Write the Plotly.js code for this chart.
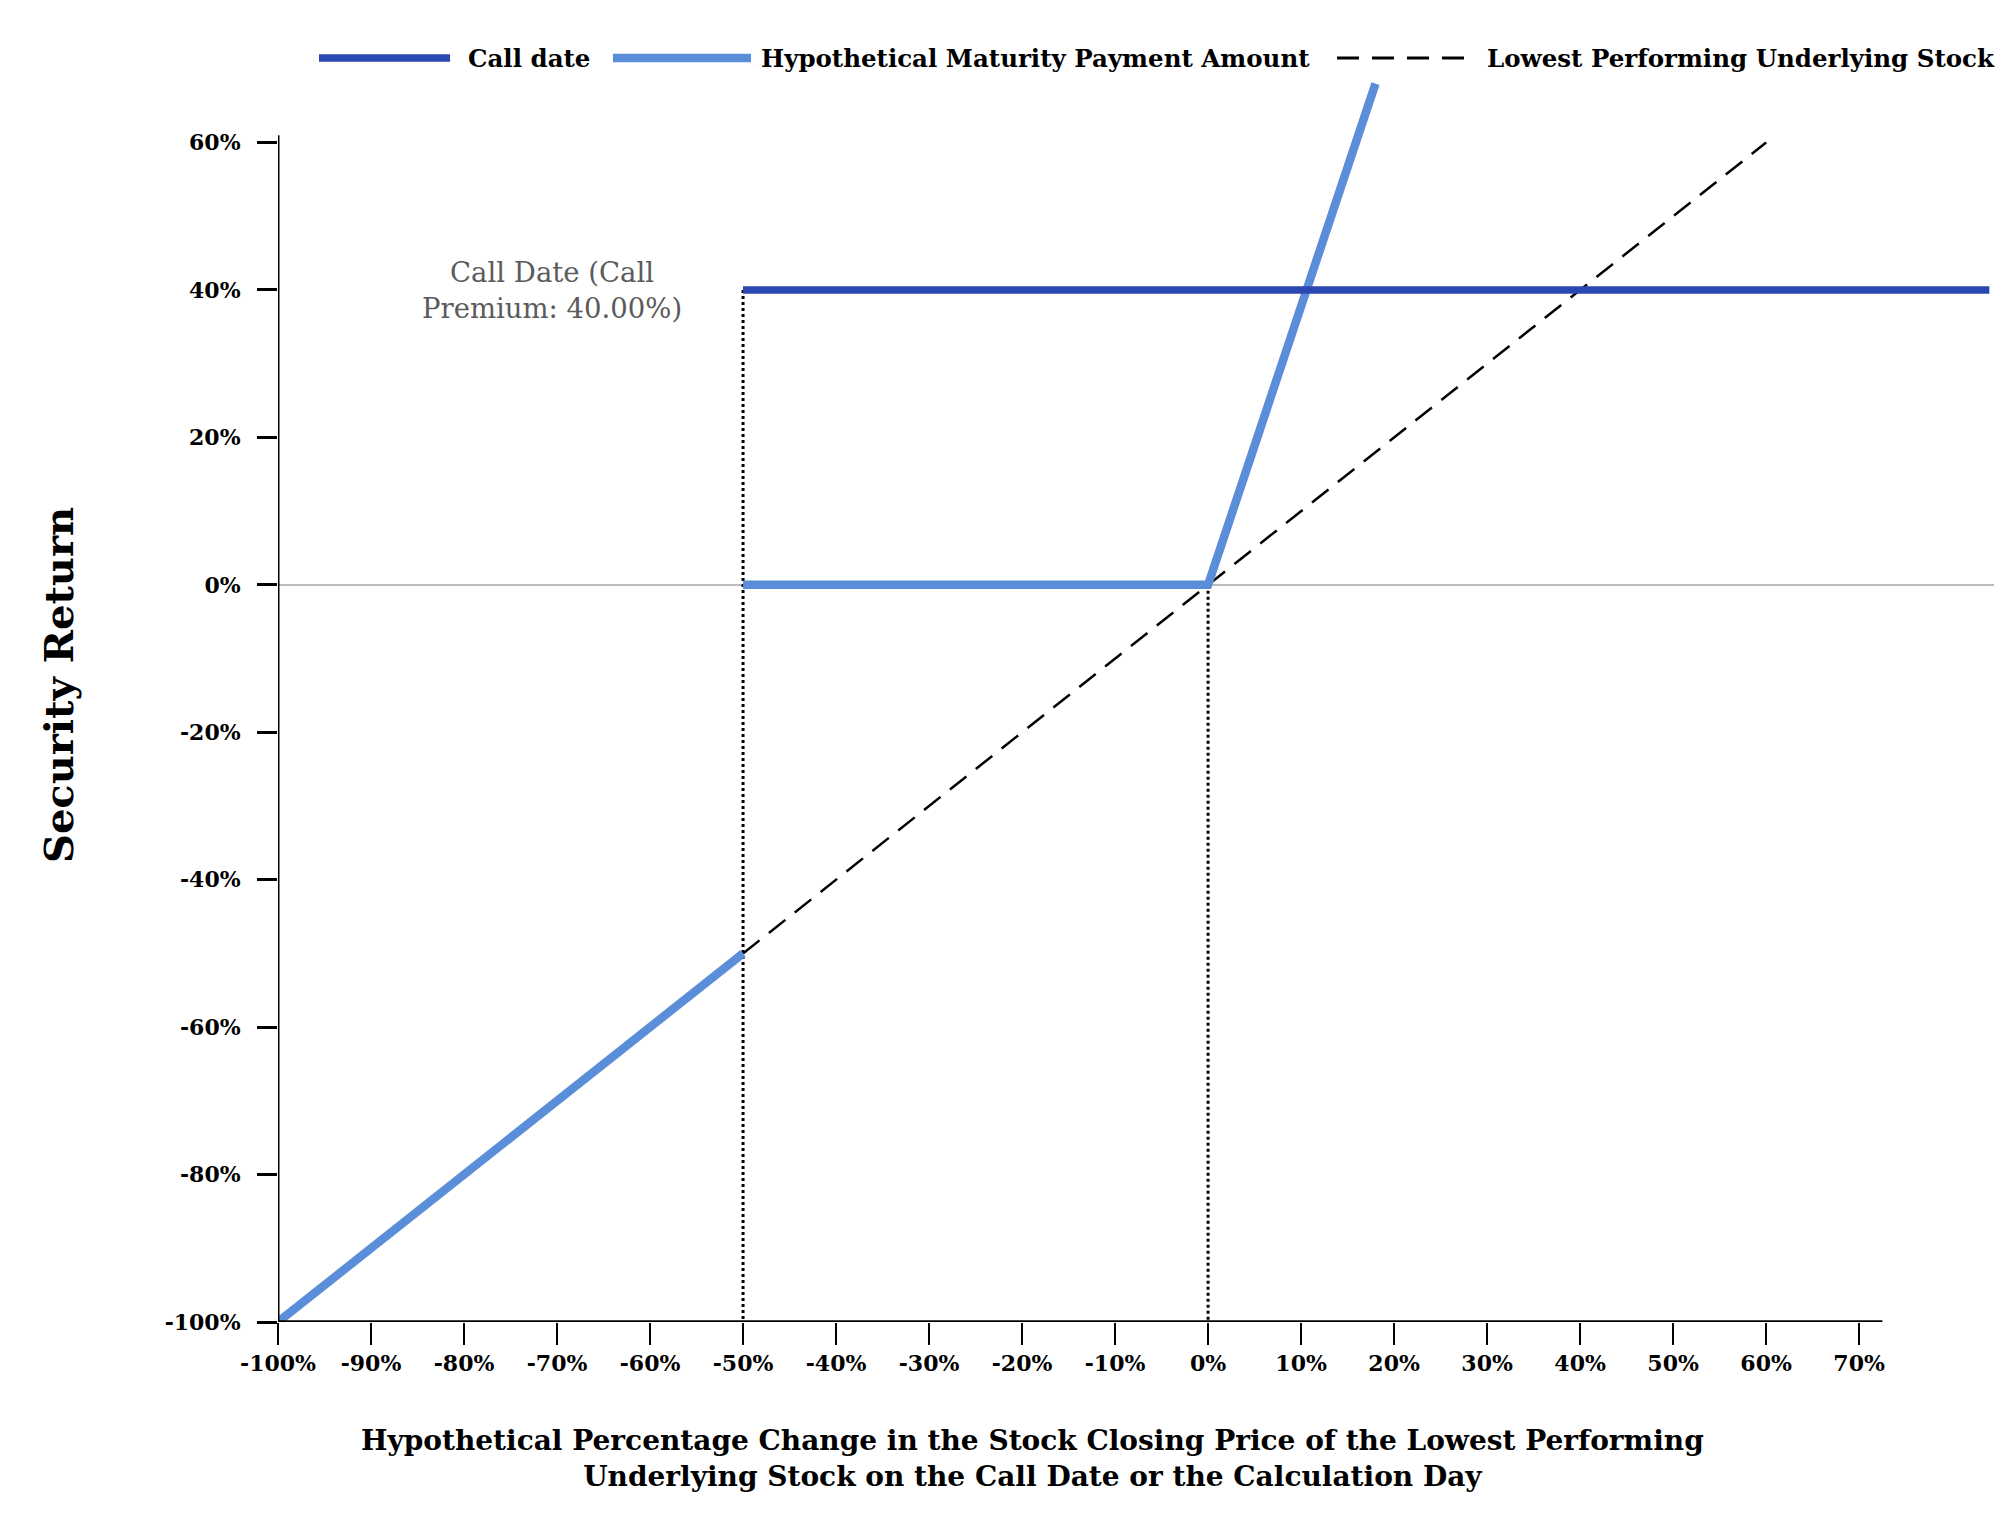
<!DOCTYPE html>
<html>
<head>
<meta charset="utf-8">
<script src="https://cdn.plot.ly/plotly-3.0.1.min.js"></script>
<style>
  html, body { margin: 0; padding: 0; background: #fff; }
  #chart { width: 2015px; height: 1516px; }
</style>
</head>
<body>
<div id="chart"></div>
<script>
// chart values
var xTicks = [-100, -90, -80, -70, -60, -50, -40, -30, -20, -10, 0, 10, 20, 30, 40, 50, 60, 70];
var yTicks = [-100, -80, -60, -40, -20, 0, 20, 40, 60];

var callX = [-50, 84];
var callY = [40, 40];

var maturityX = [-100, -50, null, -50, 0, 18];
var maturityY = [-100, -50, null, 0, 0, 68];

var stockX = [-50, 60];
var stockY = [-50, 60];

var callDropX = [-50, -50];
var callDropY = [40, -100];
var zeroDropX = [0, 0];
var zeroDropY = [0, -100];

var callLabel = "Call Date (Call<br>Premium: 40.00%)";
var legendNames = ["Call date", "Hypothetical Maturity Payment Amount", "Lowest Performing Underlying Stock"];

var darkBlue = "#2b47b1";
var lightBlue = "#5a8ed8";
var serif = "DejaVu Serif, serif";

// page size and plot box
var W = 2015, H = 1516;
var M = { l: 278, r: 21, t: 74, b: 194 };
function px(x) { return (x - M.l) / (W - M.l - M.r); }
function py(y) { return (H - M.b - y) / (H - M.t - M.b); }

var data = [
  { x: callDropX, y: callDropY, mode: "lines", line: { color: "#000", width: 3, dash: "dot" }, hoverinfo: "skip" },
  { x: zeroDropX, y: zeroDropY, mode: "lines", line: { color: "#000", width: 3, dash: "dot" }, hoverinfo: "skip" },
  { x: stockX, y: stockY, name: legendNames[2], mode: "lines", line: { color: "#000", width: 2.5, dash: "21px,12px" } },
  { x: maturityX, y: maturityY, name: legendNames[1], mode: "lines", connectgaps: false, line: { color: lightBlue, width: 8.5 } },
  { x: callX, y: callY, name: legendNames[0], mode: "lines", line: { color: darkBlue, width: 7.5 } }
];

// legend drawn by hand so the swatches get the long look of the original
var legendItems = [
  { x0: 319, x1: 450, tx: 466, color: darkBlue, width: 7.5, dash: "solid", name: legendNames[0] },
  { x0: 613, x1: 751, tx: 759, color: lightBlue, width: 8.5, dash: "solid", name: legendNames[1] },
  { x0: 1337, x1: 1476, tx: 1485, color: "#000", width: 3, dash: "22px,13px", name: legendNames[2] }
];
var legendY = 58;

var shapes = [
  // axis lines stop short of the plot box like the original
  { type: "line", xref: "x", yref: "y", x0: -100, x1: 72.5, y0: -100, y1: -100, line: { color: "#000", width: 3.5 } },
  { type: "line", xref: "x", yref: "y", x0: -100, x1: -100, y0: -100, y1: 61, line: { color: "#000", width: 3 } }
];
var annotations = [
  { x: -70.5, y: 40, xref: "x", yref: "y", text: callLabel, showarrow: false, align: "center",
    font: { family: serif, size: 27.5, color: "#5b5b5b" } },
  { x: px(1032), y: py(1458), xref: "paper", yref: "paper", xanchor: "center", yanchor: "middle", showarrow: false, align: "center",
    text: "<b>Hypothetical Percentage Change in the Stock Closing Price of the Lowest Performing<br>Underlying Stock on the Call Date or the Calculation Day</b>",
    font: { family: serif, size: 28, color: "#000" } },
  { x: px(58), y: py(685), xref: "paper", yref: "paper", xanchor: "center", yanchor: "middle", showarrow: false, textangle: -90,
    text: "<b>Security Return</b>", font: { family: serif, size: 40, color: "#000" } }
];
legendItems.forEach(function (it) {
  shapes.push({ type: "line", xref: "paper", yref: "paper", x0: px(it.x0), x1: px(it.x1), y0: py(legendY), y1: py(legendY),
    line: { color: it.color, width: it.width, dash: it.dash } });
  annotations.push({ x: px(it.tx), y: py(legendY), xref: "paper", yref: "paper", xanchor: "left", yanchor: "middle",
    showarrow: false, text: "<b>" + it.name + "</b>", font: { family: serif, size: 24.5, color: "#000" } });
});

var layout = {
  width: W,
  height: H,
  margin: M,
  paper_bgcolor: "#fff",
  plot_bgcolor: "#fff",
  showlegend: false,
  font: { family: serif, color: "#000" },
  xaxis: {
    range: [-100, 84.5],
    tickmode: "array",
    tickvals: xTicks,
    ticktext: xTicks.map(function (v) { return "<b>" + v + "%</b>"; }),
    ticks: "outside",
    ticklen: 22,
    tickwidth: 1.5,
    tickcolor: "#000",
    tickfont: { family: serif, size: 22, color: "#000" },
    showgrid: false,
    zeroline: false,
    showline: false
  },
  yaxis: {
    range: [-100, 69.3],
    tickmode: "array",
    tickvals: yTicks,
    ticktext: yTicks.map(function (v) { return "<b>" + v + "%</b>"; }),
    ticks: "outside",
    ticklen: 20,
    tickwidth: 3,
    tickcolor: "#000",
    ticklabelstandoff: 12,
    tickfont: { family: serif, size: 22, color: "#000" },
    showgrid: false,
    zeroline: true,
    zerolinecolor: "#bdbdbd",
    zerolinewidth: 1.5,
    showline: false
  },
  shapes: shapes,
  annotations: annotations
};

Plotly.newPlot("chart", data, layout, { displayModeBar: false, staticPlot: true });
</script>
</body>
</html>
